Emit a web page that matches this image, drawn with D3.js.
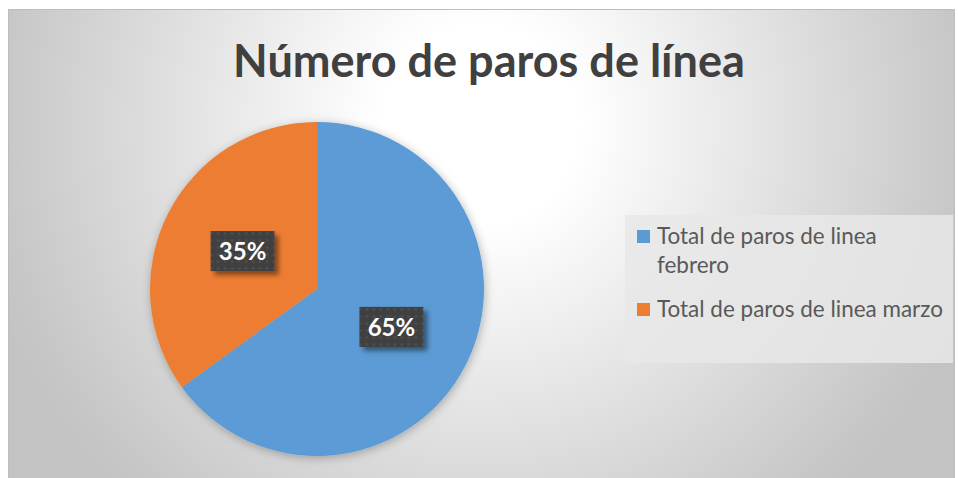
<!DOCTYPE html>
<html>
<head>
<meta charset="utf-8">
<script src="https://cdn.jsdelivr.net/npm/d3@7"></script>
<style>
  html, body { margin: 0; padding: 0; background: #ffffff; }
  svg { display: block; }
</style>
</head>
<body>
<svg id="chart" width="958" height="478"></svg>
<script>
// ---- data ----
const title = "Número de paros de línea";
const categories = ["Total de paros de linea febrero", "Total de paros de linea marzo"];
const values = [65, 35];
const colors = ["#5B9BD5", "#ED7D31"];

const svg = d3.select("#chart");
const defs = svg.append("defs");

// background gradient
const bg = defs.append("radialGradient").attr("id", "bgGrad")
  .attr("gradientUnits", "userSpaceOnUse")
  .attr("cx", 480).attr("cy", 125).attr("r", 520);
bg.append("stop").attr("offset", 0).attr("stop-color", "#ffffff");
bg.append("stop").attr("offset", 0.19).attr("stop-color", "#ffffff");
bg.append("stop").attr("offset", 0.94).attr("stop-color", "#c6c6c6");
bg.append("stop").attr("offset", 1).attr("stop-color", "#c3c3c3");

// pie shadow
const ps = defs.append("filter").attr("id", "pieShadow")
  .attr("x", "-20%").attr("y", "-20%").attr("width", "140%").attr("height", "140%");
ps.append("feDropShadow").attr("dx", 1).attr("dy", 2).attr("stdDeviation", 5)
  .attr("flood-color", "#000").attr("flood-opacity", 0.28);

// label shadow
const ls = defs.append("filter").attr("id", "lblShadow")
  .attr("x", "-30%").attr("y", "-30%").attr("width", "170%").attr("height", "190%");
ls.append("feDropShadow").attr("dx", 4).attr("dy", 4).attr("stdDeviation", 2.5)
  .attr("flood-color", "#000").attr("flood-opacity", 0.45);

// dotted pattern for label boxes
const pat = defs.append("pattern").attr("id", "dots")
  .attr("patternUnits", "userSpaceOnUse").attr("width", 7).attr("height", 7);
pat.append("rect").attr("width", 7).attr("height", 7).attr("fill", "#3f3f3f");
pat.append("circle").attr("cx", 3.5).attr("cy", 3.5).attr("r", 1.6).attr("fill", "#4d4d4d");

// chart area
svg.append("rect")
  .attr("x", 8.5).attr("y", 9.5).attr("width", 946).attr("height", 470)
  .attr("fill", "url(#bgGrad)").attr("stroke", "#bdbdbd").attr("stroke-width", 1);

// title
const tEl = svg.append("text")
  .attr("x", 489).attr("y", 77)
  .attr("text-anchor", "middle")
  .attr("font-family", "Lato, 'Open Sans', sans-serif")
  .attr("font-weight", "bold")
  .attr("font-size", 40)
  .attr("fill", "#404040")
  .text(title);
{
  const len = tEl.node().getComputedTextLength();
  tEl.attr("font-size", 40 * 512 / len);
}

// pie
const cx = 317, cy = 289, R = 167;
const pie = d3.pie().sort(null).value(d => d);
const arcs = pie(values);
const arc = d3.arc().innerRadius(0).outerRadius(R);
const labelArc = d3.arc().innerRadius(R * 0.5).outerRadius(R * 0.5);
const total = d3.sum(values);

const g = svg.append("g").attr("transform", `translate(${cx},${cy})`);
g.append("g").attr("filter", "url(#pieShadow)")
  .selectAll("path").data(arcs).enter().append("path")
  .attr("d", arc)
  .attr("fill", (d, i) => colors[i]);

// data labels
const lg = g.selectAll("g.lbl").data(arcs).enter().append("g").attr("class", "lbl")
  .attr("transform", d => `translate(${labelArc.centroid(d)})`);
lg.append("rect")
  .attr("x", -32).attr("y", -20).attr("width", 64).attr("height", 40)
  .attr("fill", "url(#dots)")
  .attr("filter", "url(#lblShadow)");
lg.append("text")
  .attr("text-anchor", "middle")
  .attr("y", 9)
  .attr("font-family", "Lato, 'Open Sans', sans-serif")
  .attr("font-weight", "bold")
  .attr("font-size", 24)
  .attr("fill", "#ffffff")
  .text(d => Math.round(d.data / total * 100) + "%");

// legend
svg.append("rect")
  .attr("x", 625).attr("y", 215).attr("width", 328).attr("height", 148)
  .attr("fill", "#e8e8e8").attr("fill-opacity", 0.85);

const legFont = "Lato, 'Open Sans', sans-serif";
const probe = svg.append("text").attr("font-family", legFont).attr("font-size", 21).text(categories[1]);
const legSize = 21 * 286 / probe.node().getComputedTextLength();
probe.remove();

const maxTextW = 290;
const lineH = 29;
let yBase = 244;
categories.forEach((c, i) => {
  svg.append("rect")
    .attr("x", 637).attr("y", yBase - 14).attr("width", 13).attr("height", 13)
    .attr("fill", colors[i]);
  const t = svg.append("text")
    .attr("x", 657).attr("y", yBase)
    .attr("font-family", legFont)
    .attr("font-size", legSize)
    .attr("fill", "#595959");
  const words = c.split(" ");
  let line = [];
  let ts = t.append("tspan").attr("x", 657).attr("y", yBase);
  let nLines = 1;
  words.forEach(w => {
    line.push(w);
    ts.text(line.join(" "));
    if (ts.node().getComputedTextLength() > maxTextW && line.length > 1) {
      line.pop();
      ts.text(line.join(" "));
      line = [w];
      ts = t.append("tspan").attr("x", 657).attr("y", yBase + nLines * lineH).text(w);
      nLines++;
    }
  });
  yBase += nLines * lineH + 15;
});
</script>
</body>
</html>
